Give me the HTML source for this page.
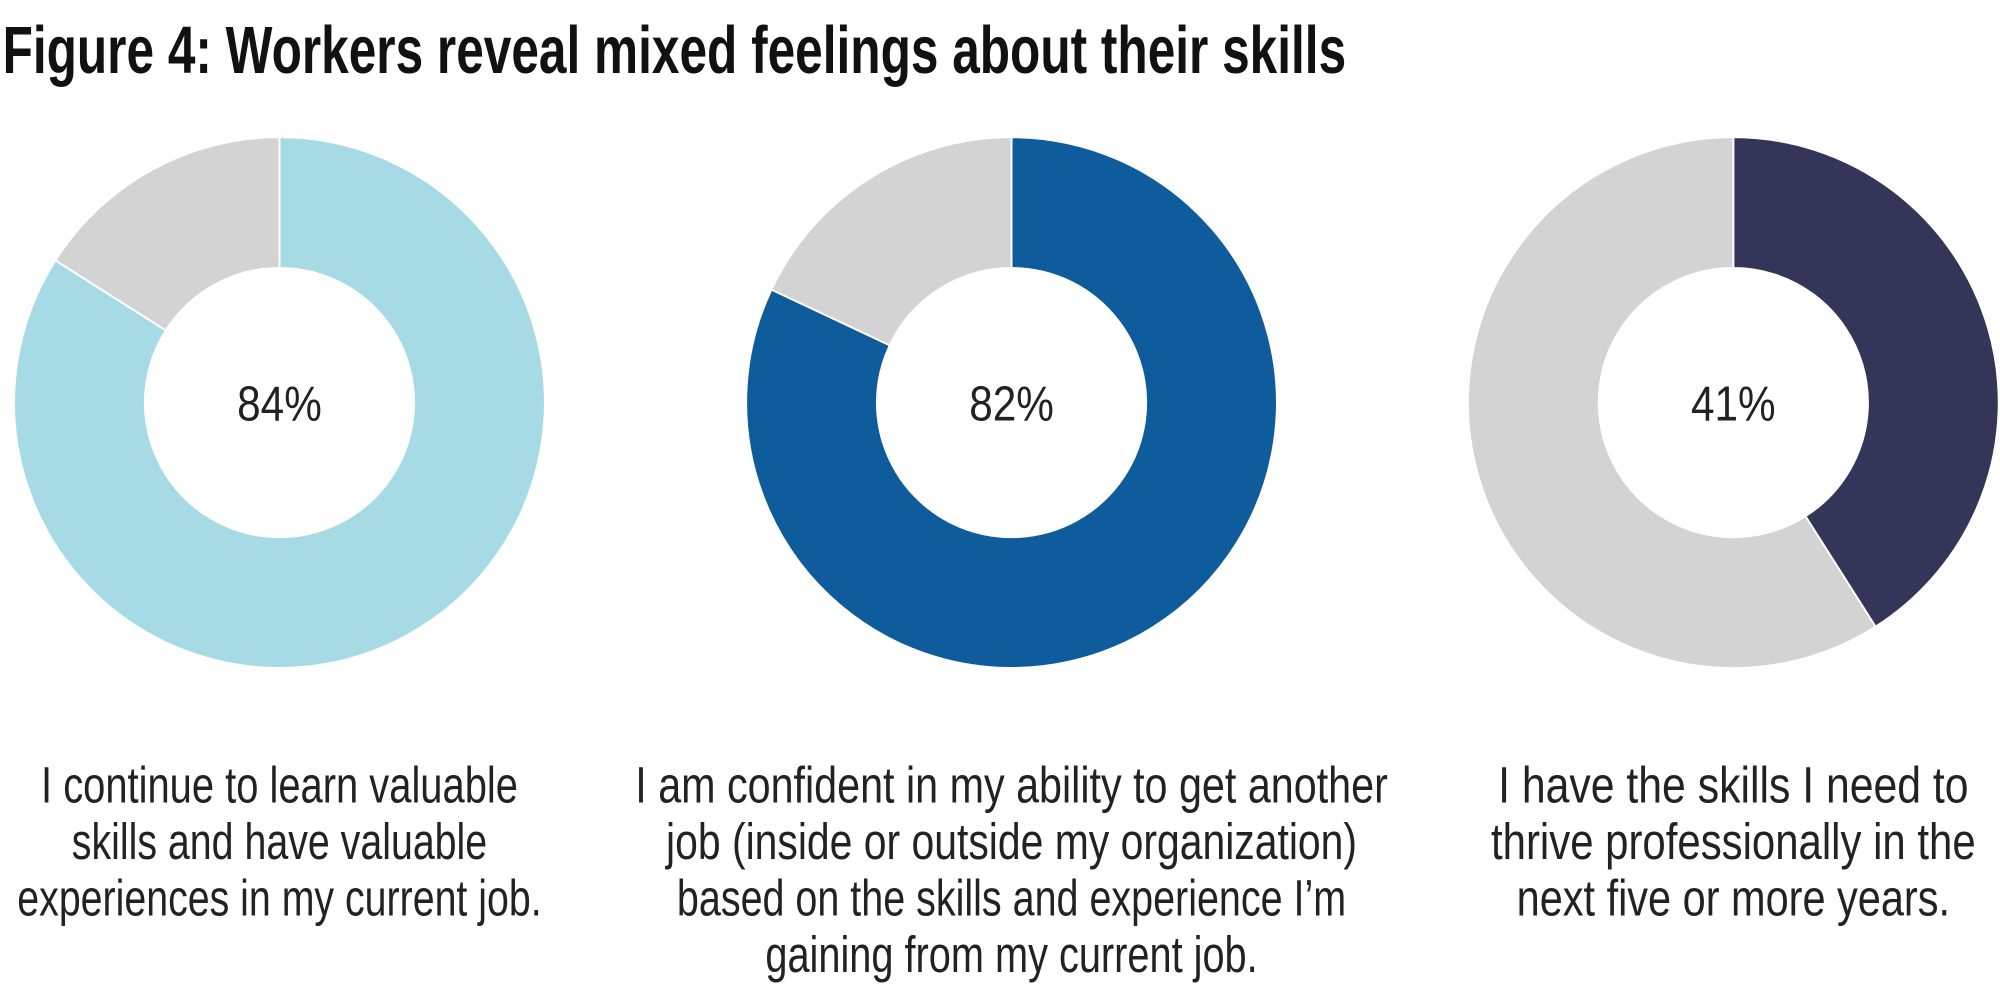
<!DOCTYPE html>
<html><head><meta charset="utf-8"><style>
html,body{margin:0;padding:0;background:#fff;}
svg{display:block;}
text{font-family:"Liberation Sans Narrow","Liberation Sans",sans-serif;}
</style></head><body>
<svg id="chart" width="2000" height="984" viewBox="0 0 1560 767.5">
<text x="2" y="57" font-size="52" font-weight="bold" fill="#111" textLength="1048" lengthAdjust="spacingAndGlyphs">Figure 4: Workers reveal mixed feelings about their skills</text>
<g id="donuts"></g>
</svg>
<script>
const values = [84, 82, 41];
const colors = ['#a6dbe6', '#0e5c9c', '#333559'];
const labels = ['84%', '82%', '41%'];
const captions = [
 ['I continue to learn valuable','skills and have valuable','experiences in my current job.'],
 ['I am confident in my ability to get another','job (inside or outside my organization)','based on the skills and experience I\u2019m','gaining from my current job.'],
 ['I have the skills I need to','thrive professionally in the','next five or more years.']
];
const captionWidths = [[372,324,409],[587,539,522,384],[367,378,338]];
const centersX = [218, 789, 1352];
const cy = 314, R = 207, r = 105;
const NS = 'http://www.w3.org/2000/svg';
const g = document.getElementById('donuts');
function pt(a, rad, cx){ return [cx + rad*Math.sin(a), cy - rad*Math.cos(a)]; }
function arc(cx, a0, a1){
  const large = (a1 - a0) > Math.PI ? 1 : 0;
  const [x0,y0]=pt(a0,R,cx),[x1,y1]=pt(a1,R,cx),[x2,y2]=pt(a1,r,cx),[x3,y3]=pt(a0,r,cx);
  return `M${x0},${y0} A${R},${R} 0 ${large} 1 ${x1},${y1} L${x2},${y2} A${r},${r} 0 ${large} 0 ${x3},${y3} Z`;
}
values.forEach((v, i) => {
  const cx = centersX[i];
  const a = v/100*2*Math.PI;
  const s1 = document.createElementNS(NS,'path');
  s1.setAttribute('d', arc(cx, 0, a));
  s1.setAttribute('fill', colors[i]);
  s1.setAttribute('stroke', '#fff'); s1.setAttribute('stroke-width', '1.5');
  
  
  g.appendChild(s1);
  const s2 = document.createElementNS(NS,'path');
  s2.setAttribute('d', arc(cx, a, 2*Math.PI));
  s2.setAttribute('fill', '#d3d3d3');
  s2.setAttribute('stroke', '#fff'); s2.setAttribute('stroke-width', '1.5');
  
  
  g.appendChild(s2);
  const t = document.createElementNS(NS,'text');
  t.setAttribute('x', cx); t.setAttribute('y', cy + 14);
  t.setAttribute('text-anchor','middle'); t.setAttribute('font-size','38'); t.setAttribute('fill','#222');
  t.setAttribute('textLength','66'); t.setAttribute('lengthAdjust','spacingAndGlyphs');
  t.textContent = labels[i];
  
  
  g.appendChild(t);
  captions[i].forEach((line, j) => {
    const c = document.createElementNS(NS,'text');
    c.setAttribute('x', cx); c.setAttribute('y', 626 + j*44);
    c.setAttribute('text-anchor','middle'); c.setAttribute('font-size','40'); c.setAttribute('fill','#222');
    c.setAttribute('textLength', captionWidths[i][j]); c.setAttribute('lengthAdjust','spacingAndGlyphs');
    c.textContent = line;
    
    
    g.appendChild(c);
  });
});
</script>
</body></html>
